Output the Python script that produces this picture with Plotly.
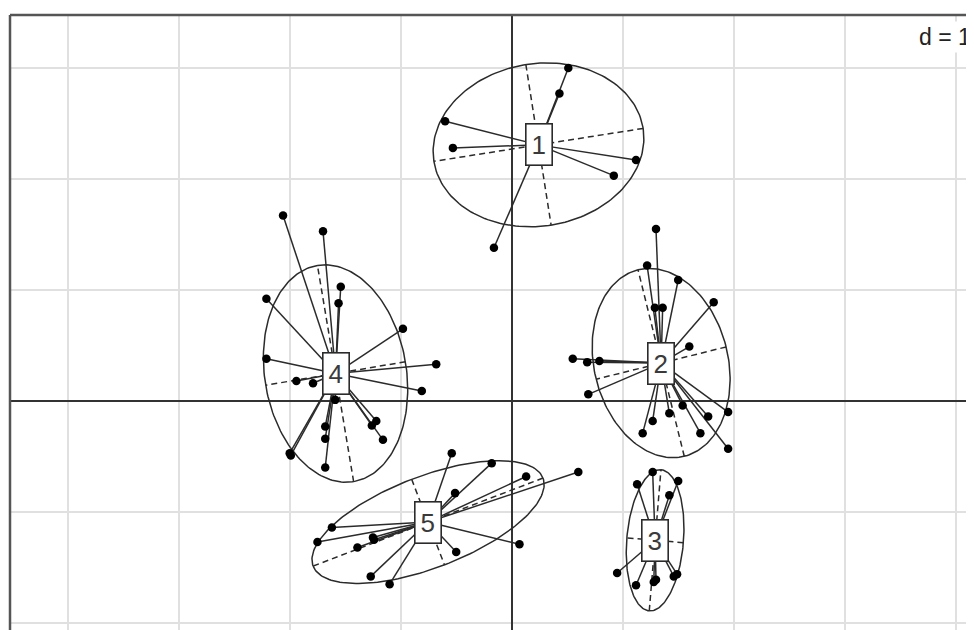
import numpy as np
import plotly.graph_objects as go

# class scores (grid step d = 1)
g1_x = [0.51, 0.43, -0.60, -0.53, 1.12, 0.92, -0.16]
g1_y = [3.00, 2.77, 2.52, 2.28, 2.17, 2.03, 1.38]

g2_x = [1.30, 1.22, 1.50, 1.82, 1.29, 1.36, 1.60, 0.55, 0.68, 0.79,
        0.69, 1.54, 1.42, 1.95, 1.77, 1.27, 1.18, 1.70, 1.95]
g2_y = [1.55, 1.22, 1.09, 0.89, 0.84, 0.84, 0.49, 0.38, 0.35, 0.36,
        0.06, -0.04, -0.11, -0.10, -0.14, -0.18, -0.29, -0.29, -0.43]

g3_x = [1.27, 1.50, 1.13, 1.42, 0.95, 1.49, 1.46, 1.12, 1.28, 1.30]
g3_y = [-0.64, -0.72, -0.75, -0.85, -1.55, -1.56, -1.58, -1.66, -1.63, -1.61]

g4_x = [-2.06, -1.70, -1.54, -1.56, -2.21, -0.98, -2.21, -0.68, -1.94, -1.79,
        -0.81, -1.59, -1.68, -1.22, -1.26, -1.68, -1.16, -2.00, -1.99, -1.68]
g4_y = [1.67, 1.53, 1.03, 0.88, 0.92, 0.65, 0.38, 0.33, 0.18, 0.16,
        0.09, 0.01, -0.23, -0.18, -0.22, -0.34, -0.35, -0.47, -0.49, -0.60]

g5_x = [-0.54, -0.18, 0.60, 0.13, -0.51, -1.62, -1.75, -1.25, -1.24, -1.39,
        0.07, -0.50, -1.27, -1.10]
g5_y = [-0.47, -0.56, -0.64, -0.68, -0.83, -1.14, -1.27, -1.23, -1.25, -1.32,
        -1.29, -1.36, -1.58, -1.65]

group_labels = ["1", "2", "3", "4", "5"]
groups = [(g1_x, g1_y), (g2_x, g2_y), (g3_x, g3_y), (g4_x, g4_y), (g5_x, g5_y)]

CELLIPSE = 1.5
INK = "#2b2b2b"

fig = go.Figure()


def ellipse_parts(x, y):
    """Ellipse outline and its two axes, as in ade4 s.class."""
    x = np.asarray(x)
    y = np.asarray(y)
    mx, my = x.mean(), y.mean()
    cov = np.cov(np.vstack([x, y]), bias=True)
    vals, vecs = np.linalg.eigh(cov)
    a = CELLIPSE * np.sqrt(vals[1]) * vecs[:, 1]
    b = CELLIPSE * np.sqrt(vals[0]) * vecs[:, 0]
    t = np.linspace(0, 2 * np.pi, 200)
    ex = mx + a[0] * np.cos(t) + b[0] * np.sin(t)
    ey = my + a[1] * np.cos(t) + b[1] * np.sin(t)
    ax_x = [mx - a[0], mx + a[0], None, mx - b[0], mx + b[0]]
    ax_y = [my - a[1], my + a[1], None, my - b[1], my + b[1]]
    return (mx, my), (ex, ey), (ax_x, ax_y)


for label, (gx, gy) in zip(group_labels, groups):
    (mx, my), (ex, ey), (ax_x, ax_y) = ellipse_parts(gx, gy)

    # star: segments from the class centre to each point
    sx, sy = [], []
    for px, py in zip(gx, gy):
        sx += [mx, px, None]
        sy += [my, py, None]
    fig.add_trace(go.Scatter(x=sx, y=sy, mode="lines",
                             line={"color": INK, "width": 1.5},
                             hoverinfo="skip", showlegend=False))

    fig.add_trace(go.Scatter(x=ex, y=ey, mode="lines",
                             line={"color": INK, "width": 1.5},
                             hoverinfo="skip", showlegend=False))
    fig.add_trace(go.Scatter(x=ax_x, y=ax_y, mode="lines",
                             line={"color": INK, "width": 1.5, "dash": "6px,4px"},
                             hoverinfo="skip", showlegend=False))

    fig.add_trace(go.Scatter(x=gx, y=gy, mode="markers",
                             marker={"color": "black", "size": 8.5},
                             showlegend=False))

    fig.add_annotation(x=mx, y=my, text=label, showarrow=False,
                       font={"family": "Arial, Liberation Sans", "size": 26, "color": "#3a3a3a"},
                       bgcolor="white", bordercolor=INK, borderwidth=1.6,
                       borderpad=5)

# "d = 1" grid step label
fig.add_annotation(xref="paper", yref="paper", x=1.0, y=0.99,
                   xanchor="right", yanchor="top", text="d = 1",
                   showarrow=False, bgcolor="white", borderpad=2,
                   font={"family": "Arial, Liberation Sans", "size": 23, "color": "#222"})

# frame: only the left and top edges fall inside the picture
fig.add_shape(type="line", xref="paper", yref="paper", x0=0, x1=0, y0=0, y1=1,
              line={"color": "#555", "width": 2.5})
fig.add_shape(type="line", xref="paper", yref="paper", x0=0, x1=1, y0=1, y1=1,
              line={"color": "#555", "width": 2.5})

axis_style = dict(
    dtick=1, tick0=0, showticklabels=False, ticks="",
    showgrid=True, gridcolor="#e0e0e0", gridwidth=2,
    zeroline=True, zerolinecolor="#333", zerolinewidth=1.6,
    showline=False, fixedrange=True,
)
fig.update_xaxes(range=[-4.52, 4.165], **axis_style)
fig.update_yaxes(range=[-2.063, 3.477], **axis_style)

# the page body adds an 8 px margin, so the figure is sized to end at the window edge
fig.update_layout(
    width=966, height=622,
    margin={"l": 2, "r": 0, "t": 7, "b": 0},
    plot_bgcolor="white", paper_bgcolor="white",
    showlegend=False,
)

fig.write_html("out.html")
